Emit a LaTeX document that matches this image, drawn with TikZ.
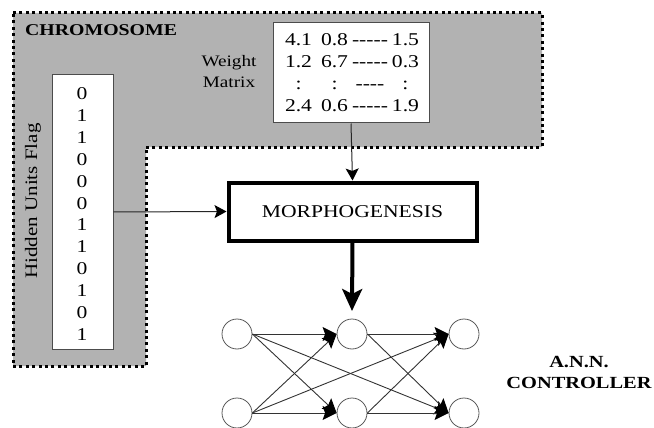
\documentclass[tikz,border=0pt]{standalone}
\usepackage{fontspec}
\setmainfont[FakeStretch=1.2]{Liberation Serif}
\usetikzlibrary{arrows.meta}
\begin{document}
\begin{tikzpicture}[x=1pt,y=-1pt,
  thinline/.style={draw=black!85,line width=1pt},
  whitebox/.style={draw=black!70,line width=1pt,fill=white,inner sep=0pt},
  neuron/.style={circle,draw=black!65,line width=0.8pt,minimum size=30pt,inner sep=0pt,fill=white},
  netarrow/.style={draw=black!80,line width=0.9pt,-{Stealth[length=14pt,width=14pt,inset=2.5pt,fill=black,color=black]}},
  txt/.style={font=\fontsize{17.5}{21.8}\selectfont,inner sep=0pt}]
\useasboundingbox (0,0) rectangle (654,428);
% chromosome region
\fill[black!30] (13,13) -- (542,13) -- (542,147) -- (146,147) -- (146,366) -- (13,366) -- cycle;
\draw[line width=3pt,dash pattern=on 3pt off 3.4pt] (13,13) -- (542,13) -- (542,147) -- (146,147) -- (146,366) -- (13,366) -- cycle;
\node[txt,anchor=west,font=\fontsize{16.5}{20}\selectfont\bfseries] (chrom) at (25,30) {CHROMOSOME};
% weight matrix
\node[whitebox,minimum width=156pt,minimum height=100pt] (wm) at (351,73) {};
\node[txt,font=\fontsize{18}{21.8}\selectfont] (wmtext) at (352,74) {\begin{tabular}{@{}c@{\hspace{9pt}}c@{\hspace{4pt}}c@{\hspace{4pt}}c@{}}
4.1 & 0.8 & -{}-{}-{}-{}- & 1.5\\
1.2 & 6.7 & -{}-{}-{}-{}- & 0.3\\
: & : & -{}-{}-{}- & :\\
2.4 & 0.6 & -{}-{}-{}-{}- & 1.9
\end{tabular}};
\node[txt,align=center,font=\fontsize{16}{21}\selectfont] (wlabel) at (229,72) {Weight\\Matrix};
% hidden units flag
\node[whitebox,minimum width=61pt,minimum height=274pt] (flag) at (82.5,212) {};
\node[txt,align=center,font=\fontsize{18}{21.9}\selectfont] (flagtext) at (82,214) {0\\1\\1\\0\\0\\0\\1\\1\\0\\1\\0\\1};
\node[txt,rotate=90] (flaglabel) at (33,201) {Hidden Units Flag};
% morphogenesis
\node[draw,line width=4pt,fill=white,minimum width=248pt,minimum height=58pt,inner sep=0pt,txt,font=\fontsize{18}{20}\selectfont] (morph) at (352.5,211.5) {MORPHOGENESIS};
\draw[thinline,-{Stealth[length=12pt,width=13pt,inset=2.5pt,fill=black,color=black]}] (wm.south) -- (morph.north);
\draw[thinline,-{Stealth[length=12pt,width=13pt,inset=2.5pt,fill=black,color=black]}] (flag.east) -- (morph.west);
\coordinate (nettop) at (352,311);
\draw[line width=4pt,-{Stealth[length=22pt,width=20pt,inset=5pt]}] (morph.south) -- (nettop);
% network
\node[neuron] (l1) at (237,334) {};
\node[neuron] (l2) at (237,413) {};
\node[neuron] (m1) at (352,334) {};
\node[neuron] (m2) at (352,413) {};
\node[neuron] (r1) at (464,334) {};
\node[neuron] (r2) at (464,413) {};
\foreach \a/\b in {l1/m1,l1/m2,l1/r2,l2/m1,l2/m2,l2/r1,m1/r1,m1/r2,m2/r1,m2/r2}
  \draw[netarrow] (\a.east) -- (\b.west);
\node[txt,align=center,font=\fontsize{17}{21}\selectfont\bfseries] (ann) at (579,372) {A.N.N.\\CONTROLLER};
\end{tikzpicture}
\end{document}
